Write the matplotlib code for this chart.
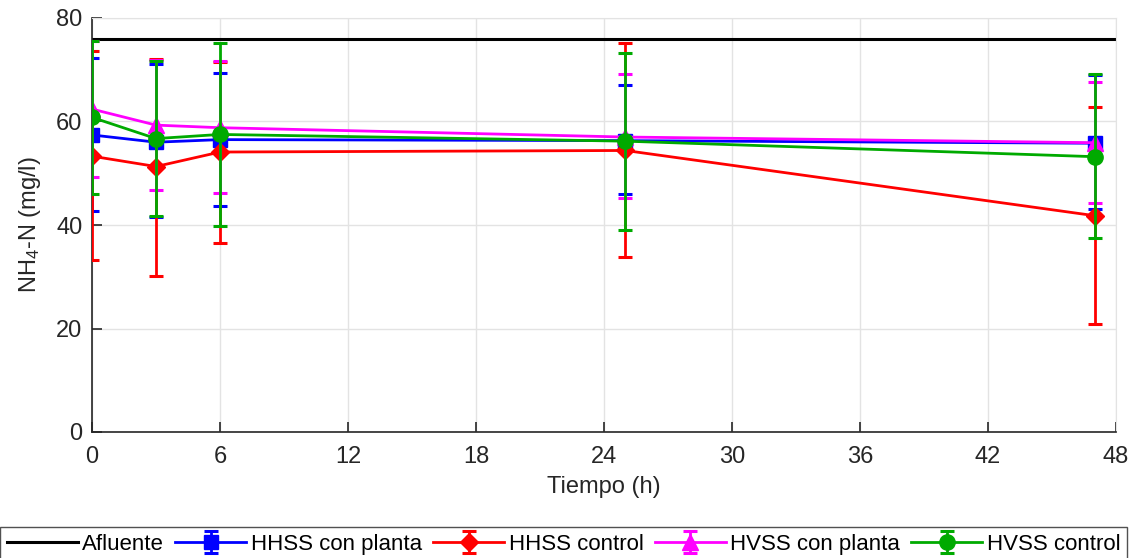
import matplotlib.pyplot as plt
import numpy as np

plt.rcParams['font.family'] = ['Liberation Sans', 'DejaVu Sans']
plt.rcParams['mathtext.fontset'] = 'custom'
plt.rcParams['mathtext.rm'] = 'Liberation Sans'
plt.rcParams['mathtext.default'] = 'rm'

# sampling times (h)
tiempo = [0, 3, 6, 25, 47]
afluente = 75.9

# means
hhss_planta = [57.4, 56.0, 56.5, 56.3, 55.8]
hhss_control = [53.3, 51.3, 54.1, 54.4, 41.8]
hvss_planta = [62.4, 59.3, 58.8, 57.0, 55.9]
hvss_control = [60.8, 56.7, 57.5, 56.2, 53.2]

# error bar ends (lower, upper)
hhss_planta_lo = [42.8, 41.5, 43.7, 45.9, 43.0]
hhss_planta_hi = [72.2, 71.2, 69.3, 67.1, 69.0]
hhss_control_lo = [33.2, 30.1, 36.6, 33.8, 20.9]
hhss_control_hi = [73.7, 72.1, 71.5, 75.2, 62.8]
hvss_planta_lo = [49.3, 46.7, 46.1, 45.3, 44.3]
hvss_planta_hi = [75.6, 71.9, 71.6, 69.2, 67.6]
hvss_control_lo = [46.0, 41.8, 39.9, 39.1, 37.4]
hvss_control_hi = [75.6, 71.6, 75.1, 73.3, 69.1]

fig = plt.figure(figsize=(11.35, 5.58), dpi=100)
ax = fig.add_axes([92/1135, 126/558, 1024/1135, 414/558])

ax.axhline(afluente, color='black', lw=2.2, label='Afluente', zorder=2)

series = [
    ('HHSS con planta', hhss_planta, hhss_planta_lo, hhss_planta_hi, 'blue', 's', 10),
    ('HHSS control', hhss_control, hhss_control_lo, hhss_control_hi, 'red', 'D', 9),
    ('HVSS con planta', hvss_planta, hvss_planta_lo, hvss_planta_hi, 'magenta', '^', 11),
    ('HVSS control', hvss_control, hvss_control_lo, hvss_control_hi, '#00aa00', 'o', 11),
]
for i, (name, m, lo, hi, c, mk, ms) in enumerate(series):
    m = np.array(m)
    yerr = [m - np.array(lo), np.array(hi) - m]
    ax.errorbar(tiempo, m, yerr=yerr, color=c, marker=mk, ms=ms, lw=2.0,
                elinewidth=2.0, capsize=5, capthick=2.2, label=name, zorder=3 + i)

ax.set_xlim(0, 48)
ax.set_ylim(0, 80)
ax.set_xticks(np.arange(0, 49, 6))
ax.set_yticks(np.arange(0, 81, 20))
ax.grid(True, color='#e3e3e3', lw=1)
ax.set_axisbelow(True)
for s in ['top', 'right']:
    ax.spines[s].set_color('#e3e3e3')
for s in ['left', 'bottom']:
    ax.spines[s].set_color('#262626')
    ax.spines[s].set_linewidth(1.2)
ax.tick_params(direction='in', length=7, width=1.2, labelsize=17, colors='#262626')
ax.tick_params(axis='x', pad=10)
ax.tick_params(axis='y', pad=7)
ax.set_xlabel('Tiempo (h)', fontsize=17, color='#262626', labelpad=6)
ax.set_ylabel('NH$_4$-N (mg/l)', fontsize=17, color='#262626', labelpad=9)

fig.legend(loc='upper left', bbox_to_anchor=(0.0, 1 - 527/558), ncol=5,
           prop={'size': 16}, borderaxespad=0,
           frameon=True, fancybox=False, edgecolor='#262626', handlelength=3.2,
           handletextpad=0.2, columnspacing=0.5, borderpad=0.3)

fig.savefig('out.png', dpi=100)
